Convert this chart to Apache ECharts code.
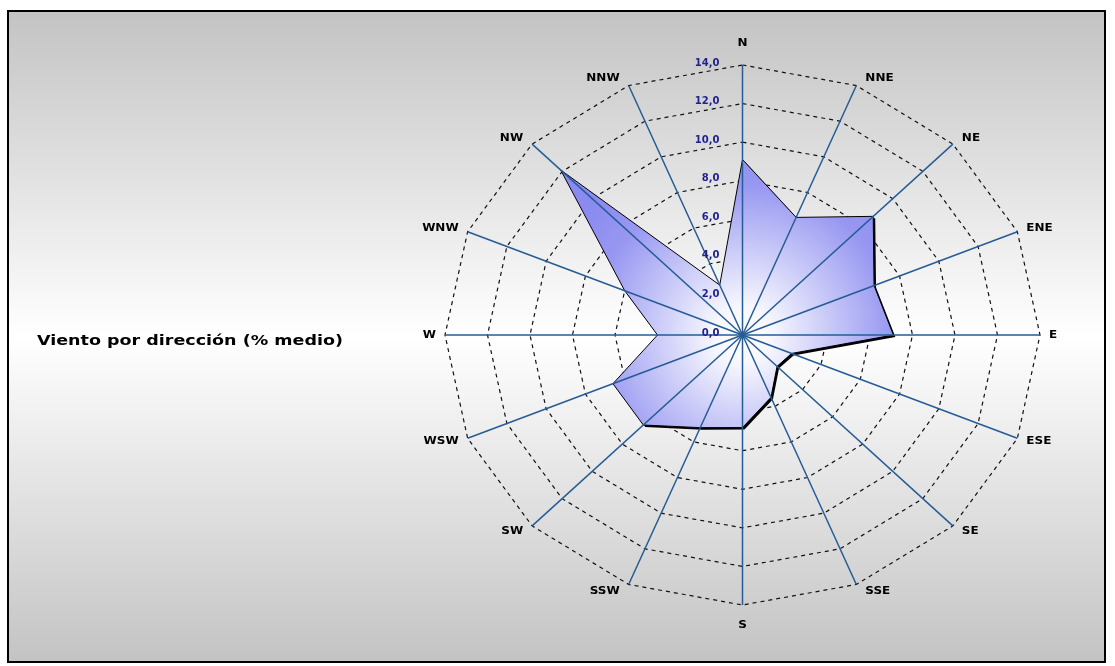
<!DOCTYPE html>
<html>
<head>
<meta charset="utf-8">
<script src="https://cdn.jsdelivr.net/npm/echarts@6/dist/echarts.min.js"></script>
<style>
  html, body { margin: 0; padding: 0; background: #fff; }
  #chart { width: 1115px; height: 666px; }
</style>
</head>
<body>
<div id="chart"></div>
<script>
// Wind rose: average share of wind per direction (%), 16 compass points, N at top, clockwise.
const directions = ['N', 'NNE', 'NE', 'ENE', 'E', 'ESE', 'SE', 'SSE',
                    'S', 'SSW', 'SW', 'WSW', 'W', 'WNW', 'NW', 'NNW'];
const windPct = [9.1, 6.6, 8.7, 6.7, 7.1, 2.5, 2.3, 3.5,
                 4.8, 5.2, 6.6, 6.6, 4.0, 6.0, 12.1, 2.8];
const ringLevels = [2, 4, 6, 8, 10, 12, 14];
const tickValues = [0, 2, 4, 6, 8, 10, 12, 14];
const titleText = 'Viento por dirección (% medio)';

const R_MAX = 14;

// value + compass index -> data-space point on the x/y value axes
function polarPoint(r, i) {
  const a = i * 2 * Math.PI / directions.length;
  return [r * Math.sin(a), r * Math.cos(a)];
}

function tickText(v) {
  return v.toFixed(1).replace('.', ',');
}

const chart = echarts.init(document.getElementById('chart'), null, { renderer: 'canvas' });

const option = {
  backgroundColor: '#ffffff',
  animation: false,
  graphic: [
    {
      type: 'rect',
      z: -10,
      shape: { x: 8, y: 11, width: 1097, height: 651 },
      style: {
        fill: new echarts.graphic.LinearGradient(0, 0, 0, 1, [
          { offset: 0, color: '#c3c3c3' },
          { offset: 0.5, color: '#ffffff' },
          { offset: 1, color: '#c3c3c3' }
        ]),
        stroke: '#000000',
        lineWidth: 2
      }
    },
    {
      type: 'text',
      x: 37,
      y: 341,
      scaleX: 1.25,
      style: {
        text: titleText,
        font: 'bold 14px "DejaVu Sans"',
        fill: '#000000',
        verticalAlign: 'middle'
      }
    }
  ],
  grid: { left: 445, right: 75, top: 65, bottom: 61, containLabel: false },
  xAxis: {
    type: 'value', min: -R_MAX, max: R_MAX, interval: 2,
    show: false
  },
  yAxis: {
    type: 'value', min: -R_MAX, max: R_MAX, interval: 2,
    show: false
  },
  series: [
    {
      // dashed 16-sided rings
      type: 'custom',
      z: 1,
      silent: true,
      data: ringLevels.map(v => [v]),
      renderItem: function (params, api) {
        const r = api.value(0);
        const pts = directions.map((d, i) => api.coord(polarPoint(r, i)));
        return {
          type: 'polygon',
          shape: { points: pts },
          style: { fill: 'none', stroke: '#111111', lineWidth: 1.2, lineDash: [4, 4] }
        };
      }
    },
    {
      // wind share polygon with drop shadow and radial fill
      type: 'custom',
      z: 2,
      silent: true,
      data: [[0]],
      renderItem: function (params, api) {
        const pts = windPct.map((v, i) => api.coord(polarPoint(v, i)));
        const c = api.coord([0, 0]);
        const fill = new echarts.graphic.RadialGradient(c[0], c[1], 200, [
          { offset: 0, color: '#ffffff' },
          { offset: 0.15, color: '#f6f6fe' },
          { offset: 0.75, color: '#9898f2' },
          { offset: 1, color: '#8a8af0' }
        ], true);
        return {
          type: 'group',
          children: [
            {
              type: 'polygon',
              x: 2, y: 2,
              shape: { points: pts },
              style: { fill: '#000000' }
            },
            {
              type: 'polygon',
              shape: { points: pts },
              style: { fill: fill, stroke: '#000000', lineWidth: 1 }
            }
          ]
        };
      }
    },
    {
      // spokes
      type: 'custom',
      z: 3,
      silent: true,
      data: directions.map((d, i) => [i]),
      renderItem: function (params, api) {
        const i = api.value(0);
        const c = api.coord([0, 0]);
        const e = api.coord(polarPoint(R_MAX, i));
        return {
          type: 'line',
          shape: { x1: c[0], y1: c[1], x2: e[0], y2: e[1] },
          style: { stroke: '#255c95', lineWidth: 1.5 }
        };
      }
    },
    {
      // scale labels along the north spoke
      type: 'custom',
      z: 5,
      silent: true,
      data: tickValues.map(v => [0, v]),
      renderItem: function (params, api) {
        const v = api.value(1);
        const p = api.coord([0, v]);
        return {
          type: 'text',
          x: p[0] - 23,
          y: p[1] - 2,
          style: {
            text: tickText(v),
            font: 'bold 10px "DejaVu Sans"',
            fill: '#1f1f8f',
            align: 'right',
            verticalAlign: 'middle'
          }
        };
      }
    },
    {
      // compass labels
      type: 'custom',
      z: 4,
      silent: true,
      data: directions.map((d, i) => [i]),
      renderItem: function (params, api) {
        const i = api.value(0);
        const a = i * 2 * Math.PI / directions.length;
        const s = Math.sin(a), co = Math.cos(a);
        const p = api.coord(polarPoint(R_MAX, i));
        let align, dx, dy;
        if (Math.abs(s) < 0.01) {
          align = 'center'; dx = 0; dy = co > 0 ? -22 : 20;
        } else {
          align = s > 0 ? 'left' : 'right';
          dx = s > 0 ? 9 : -9;
          dy = -co * 8;
        }
        return {
          type: 'text',
          x: p[0] + dx,
          y: p[1] + dy,
          scaleX: 1.2,
          style: {
            text: directions[i],
            font: 'bold 10px "DejaVu Sans"',
            fill: '#000000',
            align: align,
            verticalAlign: 'middle'
          }
        };
      }
    }
  ]
};

chart.setOption(option);
</script>
</body>
</html>
